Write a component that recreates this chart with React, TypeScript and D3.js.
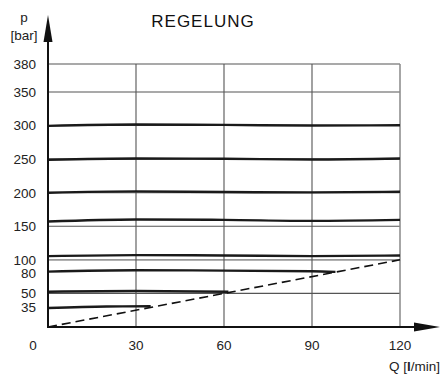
import { useEffect, useRef } from "react";
import * as d3 from "d3";

// flow Q [l/min] sample points, pressure p [bar] per curve
const qTicks = [0, 30, 60, 90, 120];
const pTicks = [35, 50, 80, 100, 150, 200, 250, 300, 350, 380];
const pGrid = [50, 100, 150, 200, 250, 300, 350, 380];

const curve300 = [299.5, 301.5, 301, 300, 300.5];
const curve250 = [249, 251, 250.5, 249.5, 251];
const curve200 = [200, 202, 201, 200.5, 201.5];
const curve155 = [157, 160, 159.5, 158, 159.5];
const curve105 = [105.5, 107, 106.5, 105.5, 106.5];
const curve80Q = [0, 30, 60, 90, 98];
const curve80 = [82.5, 84.5, 84, 83, 82];
const curve50Q = [0, 30, 61.5];
const curve50 = [52.5, 53.5, 52.5];
const curve35Q = [0, 20, 35];
const curve35 = [34, 36, 36.3];

// dashed limit line
const limitQ = [0, 120];
const limitP = [0, 100];

export default function App() {
  const ref = useRef<SVGSVGElement>(null);

  useEffect(() => {
    const svg = d3.select(ref.current);
    svg.selectAll("*").remove();

    const x = d3.scaleLinear().domain([0, 120]).range([48, 400]);
    // drawing is not quite linear at the ends
    const y = d3
      .scaleLinear()
      .domain([0, 35, 50, 350, 380])
      .range([327, 307.5, 293.4, 92, 64]);

    const font = "Liberation Sans, Arial, sans-serif";

    // grid
    svg
      .append("g")
      .selectAll("line")
      .data(pGrid)
      .enter()
      .append("line")
      .attr("x1", x(0))
      .attr("x2", x(120))
      .attr("y1", (d) => y(d))
      .attr("y2", (d) => y(d))
      .attr("stroke", (d) => (d === 100 ? "#999" : "#555"))
      .attr("stroke-width", (d) => (d === 100 ? 1.6 : 1.1));

    svg
      .append("g")
      .selectAll("line")
      .data(qTicks.slice(1))
      .enter()
      .append("line")
      .attr("x1", (d) => x(d))
      .attr("x2", (d) => x(d))
      .attr("y1", y(380))
      .attr("y2", y(0))
      .attr("stroke", (d) => (d === 120 ? "#888" : "#555"))
      .attr("stroke-width", (d) => (d === 120 ? 1.5 : 1.1));

    // pressure curves
    const line = d3
      .line<[number, number]>()
      .x((d) => x(d[0]))
      .y((d) => y(d[1]))
      .curve(d3.curveMonotoneX);

    const curves: [number[], number[]][] = [
      [qTicks, curve300],
      [qTicks, curve250],
      [qTicks, curve200],
      [qTicks, curve155],
      [qTicks, curve105],
      [curve80Q, curve80],
      [curve50Q, curve50],
      [curve35Q, curve35],
    ];

    svg
      .append("g")
      .selectAll("path")
      .data(curves)
      .enter()
      .append("path")
      .attr("d", ([qs, ps]) => line(qs.map((q, i) => [q, ps[i]])))
      .attr("fill", "none")
      .attr("stroke", "#1a1a1a")
      .attr("stroke-width", 2.4);

    svg
      .append("path")
      .attr(
        "d",
        d3
          .line<[number, number]>()
          .x((d) => x(d[0]))
          .y((d) => y(d[1]))(limitQ.map((q, i) => [q, limitP[i]]))
      )
      .attr("fill", "none")
      .attr("stroke", "#111")
      .attr("stroke-width", 1.6)
      .attr("stroke-dasharray", "9,5");

    // axes
    svg
      .append("line")
      .attr("x1", x(0))
      .attr("x2", 416)
      .attr("y1", y(0))
      .attr("y2", y(0))
      .attr("stroke", "#111")
      .attr("stroke-width", 2);
    svg
      .append("path")
      .attr("d", `M414,${y(0) - 4.5}L440,${y(0)}L414,${y(0) + 4.5}Z`)
      .attr("fill", "#111");

    svg
      .append("line")
      .attr("x1", x(0))
      .attr("x2", x(0))
      .attr("y1", y(0) + 1)
      .attr("y2", 40)
      .attr("stroke", "#111")
      .attr("stroke-width", 2);
    svg
      .append("path")
      .attr("d", `M${x(0) - 4.5},42L${x(0)},15L${x(0) + 4.5},42Z`)
      .attr("fill", "#111");

    // tick labels
    svg
      .append("g")
      .selectAll("text")
      .data(pTicks)
      .enter()
      .append("text")
      .attr("x", 36)
      .attr("y", (d) => y(d))
      .attr("dy", "0.36em")
      .attr("text-anchor", "end")
      .attr("font-family", font)
      .attr("font-size", 13.5)
      .attr("fill", "#222")
      .text((d) => d);

    svg
      .append("g")
      .selectAll("text")
      .data(qTicks)
      .enter()
      .append("text")
      .attr("x", (d) => (d === 0 ? 33 : x(d)))
      .attr("y", 350)
      .attr("text-anchor", "middle")
      .attr("font-family", font)
      .attr("font-size", 13.5)
      .attr("fill", "#222")
      .text((d) => d);

    // axis titles
    svg
      .append("text")
      .attr("x", 24)
      .attr("y", 22)
      .attr("text-anchor", "middle")
      .attr("font-family", font)
      .attr("font-size", 13.5)
      .attr("fill", "#222")
      .text("p");
    svg
      .append("text")
      .attr("x", 24)
      .attr("y", 40)
      .attr("text-anchor", "middle")
      .attr("font-family", font)
      .attr("font-size", 13.5)
      .attr("fill", "#222")
      .text("[bar]");

    const q = svg
      .append("text")
      .attr("x", 440)
      .attr("y", 371)
      .attr("text-anchor", "end")
      .attr("font-family", font)
      .attr("font-size", 13.5)
      .attr("fill", "#222");
    q.append("tspan").text("Q [");
    q.append("tspan").attr("font-weight", "bold").text("l");
    q.append("tspan").text("/min]");

    svg
      .append("text")
      .attr("x", 203)
      .attr("y", 27)
      .attr("text-anchor", "middle")
      .attr("font-family", font)
      .attr("font-size", 17)
      .attr("letter-spacing", 1)
      .attr("fill", "#111")
      .text("REGELUNG");
  }, []);

  return (
    <svg
      ref={ref}
      width={440}
      height={377}
      style={{ position: "absolute", left: 0, top: 0, background: "#fff" }}
    />
  );
}
